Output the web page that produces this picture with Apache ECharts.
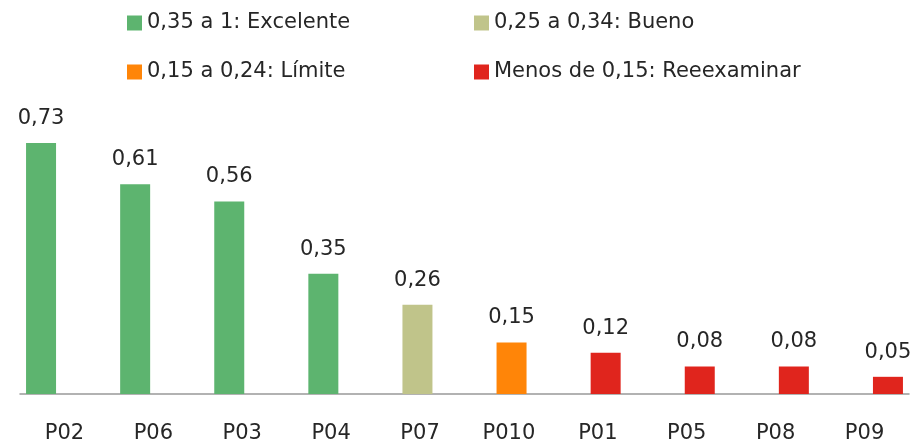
<!DOCTYPE html>
<html>
<head>
<meta charset="utf-8">
<script src="https://cdn.jsdelivr.net/npm/echarts@6/dist/echarts.min.js"></script>
<style>
    html, body { margin: 0; padding: 0; background: #fff; }
    #chart { width: 912px; height: 441px; }
</style>
</head>
<body>
<div id="chart"></div>
<script>
// categories, values and class of each bar
const categories = ['P02', 'P06', 'P03', 'P04', 'P07', 'P010', 'P01', 'P05', 'P08', 'P09'];
const values = [0.73, 0.61, 0.56, 0.35, 0.26, 0.15, 0.12, 0.08, 0.08, 0.05];
const classes = [0, 0, 0, 0, 1, 2, 3, 3, 3, 3];

const classNames = ['0,35 a 1: Excelente', '0,25 a 0,34: Bueno', '0,15 a 0,24: Límite', 'Menos de 0,15: Reeexaminar'];
const classColors = ['#5db46f', '#c0c48a', '#ff8508', '#e0251d'];

const textColor = '#262626';
const font = 'DejaVu Sans';
const fontSize = 21;

const chart = echarts.init(document.getElementById('chart'));

const series = classNames.map((name, k) => ({
    name: name,
    type: 'bar',
    stack: 'all',
    barWidth: 30,
    xAxisIndex: 0,
    yAxisIndex: 0,
    itemStyle: { color: classColors[k] },
    label: {
        show: true,
        position: 'top',
        distance: 14,
        color: textColor,
        fontFamily: font,
        fontSize: fontSize,
        formatter: p => p.value.toFixed(2).replace('.', ',')
    },
    data: values.map((v, i) => classes[i] === k ? v : null)
}));

// one legend per entry so they sit in a 2x2 block
const legendPos = [
    { left: 122, top: 6 },
    { left: 469, top: 6 },
    { left: 122, top: 55 },
    { left: 469, top: 55 }
];
const legends = classNames.map((name, k) => ({
    data: [name],
    left: legendPos[k].left,
    top: legendPos[k].top,
    itemWidth: 15,
    itemHeight: 15,
    itemGap: 0,
    icon: 'rect',
    selectedMode: false,
    textStyle: { color: textColor, fontFamily: font, fontSize: fontSize, lineHeight: 24 }
}));

chart.setOption({
    backgroundColor: '#fff',
    animation: false,
    legend: legends,
    grid: [
        // bars
        { left: -6, right: -23, top: 119, bottom: 47, outerBoundsMode: 'none' },
        // axis line and category labels
        { left: 20, right: 3, top: 119, bottom: 47, outerBoundsMode: 'none' }
    ],
    xAxis: [
        {
            type: 'category',
            gridIndex: 0,
            data: categories,
            axisLine: { show: false },
            axisTick: { show: false },
            axisLabel: { show: false }
        },
        {
            type: 'category',
            gridIndex: 1,
            data: categories,
            axisLine: { show: true, lineStyle: { color: '#999', width: 1.5 } },
            axisTick: { show: false },
            axisLabel: { color: textColor, fontFamily: font, fontSize: fontSize, margin: 29 }
        }
    ],
    yAxis: [
        { type: 'value', gridIndex: 0, min: 0, max: 0.8, show: false },
        { type: 'value', gridIndex: 1, min: 0, max: 0.8, show: false }
    ],
    series: series
});
</script>
</body>
</html>
